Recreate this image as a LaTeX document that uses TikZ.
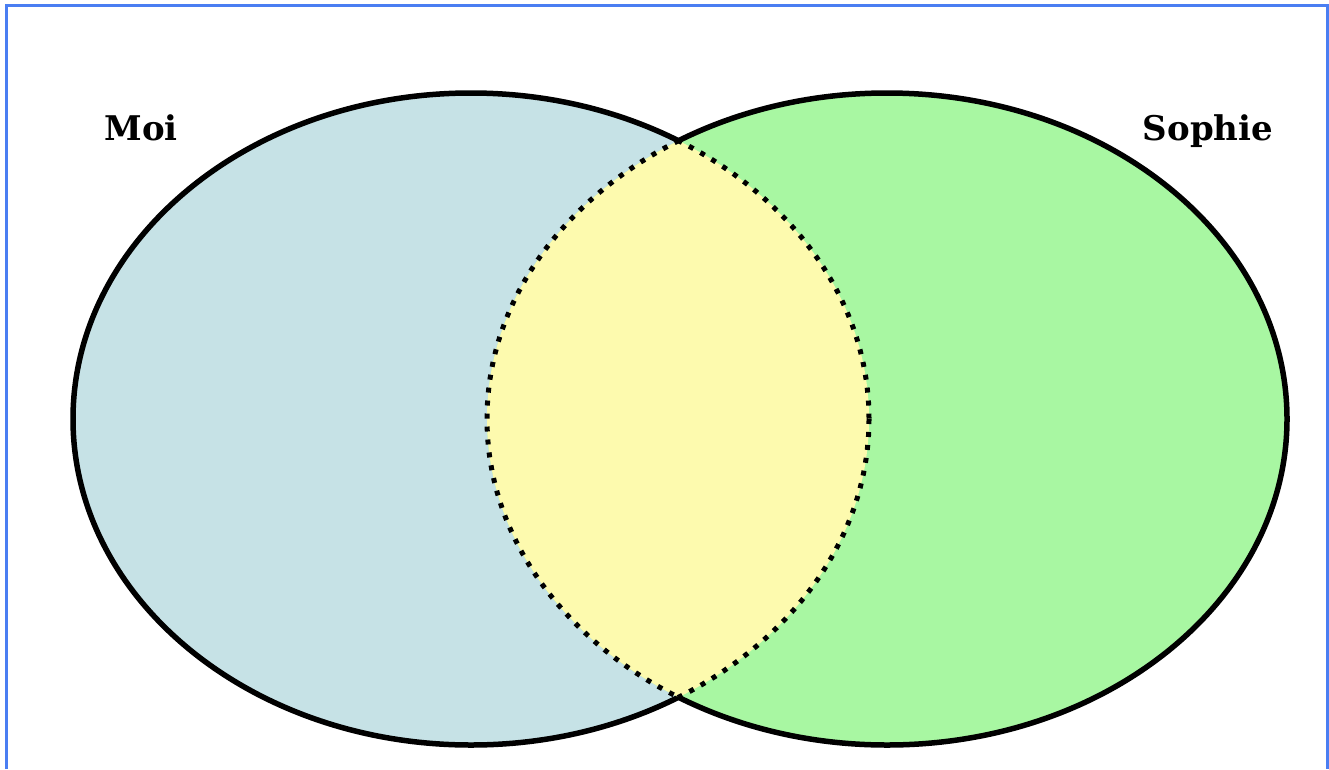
\documentclass[tikz,border=0pt]{standalone}
\usepackage{fontspec}
\newfontfamily\labelfont{DejaVu Serif}
\definecolor{moiblue}{HTML}{C6E2E6}
\definecolor{sophiegreen}{HTML}{A8F7A2}
\definecolor{lensyellow}{HTML}{FDFAAE}
\definecolor{frameblue}{HTML}{4A7EF2}

\begin{document}
\begin{tikzpicture}[x=1pt, y=-1pt,
  outline/.style={line width=5.5pt},
  lensline/.style={line width=5pt, dash pattern=on 5pt off 8pt},
  setlabel/.style={font=\labelfont\bfseries\fontsize{34}{40}\selectfont, inner sep=0pt, anchor=base}
]
\useasboundingbox (0,0) rectangle (1329,769);
\def\moishape{(471,419) ellipse [x radius=398, y radius=326]}
\def\sophieshape{(887,419) ellipse [x radius=400, y radius=326]}
% fills
\fill[moiblue] \moishape;
\fill[sophiegreen] \sophieshape;
\begin{scope}
  \clip \moishape;
  \fill[lensyellow] \sophieshape;
\end{scope}
% dotted edges of the overlap
\begin{scope}
  \clip \sophieshape;
  \draw[lensline] \moishape;
\end{scope}
\begin{scope}
  \clip \moishape;
  \draw[lensline] \sophieshape;
\end{scope}
% solid outer arcs
\begin{scope}[even odd rule]
  \clip (-10,-10) rectangle (1340,780) \sophieshape;
  \draw[outline] \moishape;
\end{scope}
\begin{scope}[even odd rule]
  \clip (-10,-10) rectangle (1340,780) \moishape;
  \draw[outline] \sophieshape;
\end{scope}
% labels
\node[setlabel] (moi) at (141,140) {Moi};
\node[setlabel] (sophie) at (1208,140) {Sophie};
% frame
\draw[frameblue, line width=3pt] (6,769) -- (6,5) -- (1327,5) -- (1327,769);
\end{tikzpicture}
\end{document}
